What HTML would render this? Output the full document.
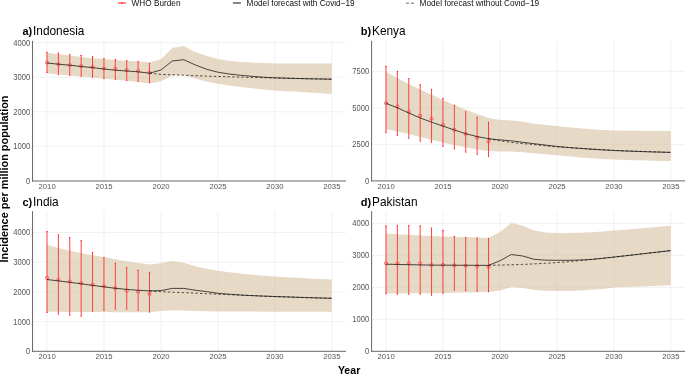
<!DOCTYPE html>
<html><head><meta charset="utf-8"><style>
html,body{margin:0;padding:0;background:#fff;}
body{width:685px;height:374px;overflow:hidden;}
svg{display:block;will-change:transform;font-family:"Liberation Sans",sans-serif;}
.tk{font-size:7.6px;fill:#555555;}
.ttl{font-size:11.85px;fill:#000;}
.lg{font-size:8.22px;fill:#111;}
.at{font-weight:bold;fill:#000;}
</style></head><body>
<svg width="685" height="374" viewBox="0 0 685 374">
<rect width="685" height="374" fill="#fff"/>
<line x1="32.55" y1="146.4" x2="346" y2="146.4" stroke="#efefef" stroke-width="0.9"/>
<line x1="32.55" y1="111.8" x2="346" y2="111.8" stroke="#efefef" stroke-width="0.9"/>
<line x1="32.55" y1="77.2" x2="346" y2="77.2" stroke="#efefef" stroke-width="0.9"/>
<line x1="32.55" y1="42.6" x2="346" y2="42.6" stroke="#efefef" stroke-width="0.9"/>
<line x1="47" y1="40.9" x2="47" y2="181" stroke="#efefef" stroke-width="0.9"/>
<line x1="103.95" y1="40.9" x2="103.95" y2="181" stroke="#efefef" stroke-width="0.9"/>
<line x1="160.9" y1="40.9" x2="160.9" y2="181" stroke="#efefef" stroke-width="0.9"/>
<line x1="217.85" y1="40.9" x2="217.85" y2="181" stroke="#efefef" stroke-width="0.9"/>
<line x1="274.8" y1="40.9" x2="274.8" y2="181" stroke="#efefef" stroke-width="0.9"/>
<line x1="331.75" y1="40.9" x2="331.75" y2="181" stroke="#efefef" stroke-width="0.9"/>
<polygon points="47,52.8 58.39,54.17 69.78,55.55 81.17,56.92 92.56,58.3 103.95,59.1 115.34,59.9 126.73,60.7 138.12,61.5 149.51,62.3 160.9,59.3 172.29,48 183.68,46 195.07,52 206.46,55.7 217.85,58.9 229.24,60.7 240.63,61.9 252.02,62.6 263.41,63 274.8,63.4 286.19,63.4 297.58,63.4 308.97,63.4 320.36,63.4 331.75,63.4 331.75,93.9 320.36,93.22 308.97,92.54 297.58,91.86 286.19,91.18 274.8,90.5 263.41,89.6 252.02,88.2 240.63,86.9 229.24,85.4 217.85,83.8 206.46,81.5 195.07,78.5 183.68,75 172.29,75.4 160.9,81.3 149.51,83.6 138.12,81.9 126.73,80.8 115.34,79.7 103.95,78.7 92.56,77.6 81.17,76.5 69.78,75.5 58.39,74.4 47,73.3" fill="#d5c09e" fill-opacity="0.6"/>
<line x1="47" y1="51.9" x2="47" y2="72.8" stroke="#ff4040" stroke-width="1"/>
<circle cx="47" cy="52.3" r="0.6" fill="#ff1a1a"/><circle cx="47" cy="72.4" r="0.55" fill="#ff2020"/>
<line x1="58.39" y1="52.8" x2="58.39" y2="74.7" stroke="#ff4040" stroke-width="1"/>
<circle cx="58.39" cy="53.2" r="0.6" fill="#ff1a1a"/><circle cx="58.39" cy="74.3" r="0.55" fill="#ff2020"/>
<line x1="69.78" y1="54.1" x2="69.78" y2="75.6" stroke="#ff4040" stroke-width="1"/>
<circle cx="69.78" cy="54.5" r="0.6" fill="#ff1a1a"/><circle cx="69.78" cy="75.2" r="0.55" fill="#ff2020"/>
<line x1="81.17" y1="55" x2="81.17" y2="76.6" stroke="#ff4040" stroke-width="1"/>
<circle cx="81.17" cy="55.4" r="0.6" fill="#ff1a1a"/><circle cx="81.17" cy="76.2" r="0.55" fill="#ff2020"/>
<line x1="92.56" y1="56.3" x2="92.56" y2="77.5" stroke="#ff4040" stroke-width="1"/>
<circle cx="92.56" cy="56.7" r="0.6" fill="#ff1a1a"/><circle cx="92.56" cy="77.1" r="0.55" fill="#ff2020"/>
<line x1="103.95" y1="58.1" x2="103.95" y2="78.6" stroke="#ff4040" stroke-width="1"/>
<circle cx="103.95" cy="58.5" r="0.6" fill="#ff1a1a"/><circle cx="103.95" cy="78.2" r="0.55" fill="#ff2020"/>
<line x1="115.34" y1="59" x2="115.34" y2="79.7" stroke="#ff4040" stroke-width="1"/>
<circle cx="115.34" cy="59.4" r="0.6" fill="#ff1a1a"/><circle cx="115.34" cy="79.3" r="0.55" fill="#ff2020"/>
<line x1="126.73" y1="60.1" x2="126.73" y2="80.8" stroke="#ff4040" stroke-width="1"/>
<circle cx="126.73" cy="60.5" r="0.6" fill="#ff1a1a"/><circle cx="126.73" cy="80.4" r="0.55" fill="#ff2020"/>
<line x1="138.12" y1="61.2" x2="138.12" y2="81.6" stroke="#ff4040" stroke-width="1"/>
<circle cx="138.12" cy="61.6" r="0.6" fill="#ff1a1a"/><circle cx="138.12" cy="81.2" r="0.55" fill="#ff2020"/>
<line x1="149.51" y1="63.1" x2="149.51" y2="82.8" stroke="#ff4040" stroke-width="1"/>
<circle cx="149.51" cy="63.5" r="0.6" fill="#ff1a1a"/><circle cx="149.51" cy="82.4" r="0.55" fill="#ff2020"/>
<circle cx="47" cy="62.5" r="1.6" fill="none" stroke="#ff4040" stroke-width="0.75"/>
<circle cx="58.39" cy="64.2" r="1.6" fill="none" stroke="#ff4040" stroke-width="0.75"/>
<circle cx="69.78" cy="65.1" r="1.6" fill="none" stroke="#ff4040" stroke-width="0.75"/>
<circle cx="81.17" cy="66.1" r="1.6" fill="none" stroke="#ff4040" stroke-width="0.75"/>
<circle cx="92.56" cy="67" r="1.6" fill="none" stroke="#ff4040" stroke-width="0.75"/>
<circle cx="103.95" cy="68.4" r="1.6" fill="none" stroke="#ff4040" stroke-width="0.75"/>
<circle cx="115.34" cy="68.9" r="1.6" fill="none" stroke="#ff4040" stroke-width="0.75"/>
<circle cx="126.73" cy="70.1" r="1.6" fill="none" stroke="#ff4040" stroke-width="0.75"/>
<circle cx="138.12" cy="71" r="1.6" fill="none" stroke="#ff4040" stroke-width="0.75"/>
<circle cx="149.51" cy="72.6" r="1.6" fill="none" stroke="#ff4040" stroke-width="0.75"/>
<polyline points="149.51,73.2 160.9,74.4 172.29,74.8 183.68,75.2 195.07,75.7 206.46,76.1 217.85,76.5 229.24,76.8 240.63,77.1 252.02,77.4 263.41,77.7 274.8,78 286.19,78.24 297.58,78.48 308.97,78.72 320.36,78.96 331.75,79.2" fill="none" stroke="#1a1a1a" stroke-width="0.75" stroke-dasharray="2.4 2.2"/>
<polyline points="47,63 58.39,64.2 69.78,65.2 81.17,66.5 92.56,67.6 103.95,69 115.34,70.2 126.73,71 138.12,71.8 149.51,73.2 160.9,70 172.29,61 183.68,59.7 195.07,64.8 206.46,69.2 217.85,72.2 229.24,74 240.63,75.3 252.02,76.3 263.41,77.2 274.8,77.8 286.19,78.2 297.58,78.5 308.97,78.8 320.36,79 331.75,79.2" fill="none" stroke="#111" stroke-width="0.75" stroke-linejoin="round"/>
<line x1="32.55" y1="40.9" x2="32.55" y2="181.5" stroke="#666666" stroke-width="1"/>
<line x1="32.05" y1="181" x2="346" y2="181" stroke="#666666" stroke-width="1"/>
<text transform="translate(30.15,183.9) scale(1,1.2)" text-anchor="end" class="tk">0</text>
<text transform="translate(30.15,149.3) scale(1,1.2)" text-anchor="end" class="tk">1000</text>
<text transform="translate(30.15,114.7) scale(1,1.2)" text-anchor="end" class="tk">2000</text>
<text transform="translate(30.15,80.1) scale(1,1.2)" text-anchor="end" class="tk">3000</text>
<text transform="translate(30.15,45.5) scale(1,1.2)" text-anchor="end" class="tk">4000</text>
<text transform="translate(47.1,189.1) scale(1,1.04)" text-anchor="middle" class="tk" style="font-size:7.72px">2010</text>
<text transform="translate(104.05,189.1) scale(1,1.04)" text-anchor="middle" class="tk" style="font-size:7.72px">2015</text>
<text transform="translate(161,189.1) scale(1,1.04)" text-anchor="middle" class="tk" style="font-size:7.72px">2020</text>
<text transform="translate(217.95,189.1) scale(1,1.04)" text-anchor="middle" class="tk" style="font-size:7.72px">2025</text>
<text transform="translate(274.9,189.1) scale(1,1.04)" text-anchor="middle" class="tk" style="font-size:7.72px">2030</text>
<text transform="translate(331.85,189.1) scale(1,1.04)" text-anchor="middle" class="tk" style="font-size:7.72px">2035</text>
<text x="32.2" y="35.1" class="ttl" text-anchor="end" style="font-size:11px;font-weight:bold">a)</text>
<text x="33" y="35.1" class="ttl">Indonesia</text>
<line x1="371.6" y1="144.4" x2="685" y2="144.4" stroke="#efefef" stroke-width="0.9"/>
<line x1="371.6" y1="107.8" x2="685" y2="107.8" stroke="#efefef" stroke-width="0.9"/>
<line x1="371.6" y1="71.3" x2="685" y2="71.3" stroke="#efefef" stroke-width="0.9"/>
<line x1="386" y1="40.9" x2="386" y2="180.9" stroke="#efefef" stroke-width="0.9"/>
<line x1="442.95" y1="40.9" x2="442.95" y2="180.9" stroke="#efefef" stroke-width="0.9"/>
<line x1="499.9" y1="40.9" x2="499.9" y2="180.9" stroke="#efefef" stroke-width="0.9"/>
<line x1="556.85" y1="40.9" x2="556.85" y2="180.9" stroke="#efefef" stroke-width="0.9"/>
<line x1="613.8" y1="40.9" x2="613.8" y2="180.9" stroke="#efefef" stroke-width="0.9"/>
<line x1="670.75" y1="40.9" x2="670.75" y2="180.9" stroke="#efefef" stroke-width="0.9"/>
<polygon points="386,71.7 397.39,78.1 408.78,83.9 420.17,89.5 431.56,94.8 442.95,100 454.34,104.9 465.73,109.7 477.12,114.1 488.51,117.9 499.9,120 511.29,120.4 522.68,121.5 534.07,123.7 545.46,125 556.85,126 568.24,127.2 579.63,128.3 591.02,129.2 602.41,130 613.8,130.5 625.19,130.7 636.58,130.8 647.97,130.9 659.36,131 670.75,131 670.75,161.1 659.36,160.9 647.97,160.6 636.58,160.3 625.19,160 613.8,159.6 602.41,159 591.02,158.3 579.63,157.4 568.24,156.3 556.85,155.2 545.46,154.3 534.07,153.3 522.68,152.3 511.29,151.6 499.9,151.5 488.51,151 477.12,149.4 465.73,147.5 454.34,145.1 442.95,142.4 431.56,139.8 420.17,137 408.78,134 397.39,131.4 386,129.1" fill="#d5c09e" fill-opacity="0.6"/>
<line x1="386" y1="65.9" x2="386" y2="132.8" stroke="#ff4040" stroke-width="1"/>
<circle cx="386" cy="66.3" r="0.6" fill="#ff1a1a"/><circle cx="386" cy="132.4" r="0.55" fill="#ff2020"/>
<line x1="397.39" y1="71" x2="397.39" y2="135.7" stroke="#ff4040" stroke-width="1"/>
<circle cx="397.39" cy="71.4" r="0.6" fill="#ff1a1a"/><circle cx="397.39" cy="135.3" r="0.55" fill="#ff2020"/>
<line x1="408.78" y1="78.2" x2="408.78" y2="138.6" stroke="#ff4040" stroke-width="1"/>
<circle cx="408.78" cy="78.6" r="0.6" fill="#ff1a1a"/><circle cx="408.78" cy="138.2" r="0.55" fill="#ff2020"/>
<line x1="420.17" y1="84.3" x2="420.17" y2="141.5" stroke="#ff4040" stroke-width="1"/>
<circle cx="420.17" cy="84.7" r="0.6" fill="#ff1a1a"/><circle cx="420.17" cy="141.1" r="0.55" fill="#ff2020"/>
<line x1="431.56" y1="89" x2="431.56" y2="142.9" stroke="#ff4040" stroke-width="1"/>
<circle cx="431.56" cy="89.4" r="0.6" fill="#ff1a1a"/><circle cx="431.56" cy="142.5" r="0.55" fill="#ff2020"/>
<line x1="442.95" y1="98" x2="442.95" y2="146.6" stroke="#ff4040" stroke-width="1"/>
<circle cx="442.95" cy="98.4" r="0.6" fill="#ff1a1a"/><circle cx="442.95" cy="146.2" r="0.55" fill="#ff2020"/>
<line x1="454.34" y1="105" x2="454.34" y2="149.4" stroke="#ff4040" stroke-width="1"/>
<circle cx="454.34" cy="105.4" r="0.6" fill="#ff1a1a"/><circle cx="454.34" cy="149" r="0.55" fill="#ff2020"/>
<line x1="465.73" y1="111.4" x2="465.73" y2="152.5" stroke="#ff4040" stroke-width="1"/>
<circle cx="465.73" cy="111.8" r="0.6" fill="#ff1a1a"/><circle cx="465.73" cy="152.1" r="0.55" fill="#ff2020"/>
<line x1="477.12" y1="116.9" x2="477.12" y2="154.6" stroke="#ff4040" stroke-width="1"/>
<circle cx="477.12" cy="117.3" r="0.6" fill="#ff1a1a"/><circle cx="477.12" cy="154.2" r="0.55" fill="#ff2020"/>
<line x1="488.51" y1="122" x2="488.51" y2="157" stroke="#ff4040" stroke-width="1"/>
<circle cx="488.51" cy="122.4" r="0.6" fill="#ff1a1a"/><circle cx="488.51" cy="156.6" r="0.55" fill="#ff2020"/>
<circle cx="386" cy="103.1" r="1.6" fill="none" stroke="#ff4040" stroke-width="0.75"/>
<circle cx="397.39" cy="106.5" r="1.6" fill="none" stroke="#ff4040" stroke-width="0.75"/>
<circle cx="408.78" cy="111.7" r="1.6" fill="none" stroke="#ff4040" stroke-width="0.75"/>
<circle cx="420.17" cy="115.8" r="1.6" fill="none" stroke="#ff4040" stroke-width="0.75"/>
<circle cx="431.56" cy="118.8" r="1.6" fill="none" stroke="#ff4040" stroke-width="0.75"/>
<circle cx="442.95" cy="124.9" r="1.6" fill="none" stroke="#ff4040" stroke-width="0.75"/>
<circle cx="454.34" cy="129.7" r="1.6" fill="none" stroke="#ff4040" stroke-width="0.75"/>
<circle cx="465.73" cy="134" r="1.6" fill="none" stroke="#ff4040" stroke-width="0.75"/>
<circle cx="477.12" cy="137.6" r="1.6" fill="none" stroke="#ff4040" stroke-width="0.75"/>
<circle cx="488.51" cy="141.5" r="1.6" fill="none" stroke="#ff4040" stroke-width="0.75"/>
<polyline points="488.51,138.7 499.9,140.8 511.29,142.4 522.68,143.6 534.07,144.6 545.46,145.8 556.85,146.9 568.24,147.5 579.63,148.22 591.02,148.95 602.41,149.68 613.8,150.4 625.19,150.8 636.58,151.2 647.97,151.6 659.36,152 670.75,152.4" fill="none" stroke="#1a1a1a" stroke-width="0.75" stroke-dasharray="2.4 2.2"/>
<polyline points="386,103.3 397.39,107.8 408.78,113 420.17,117.9 431.56,122.2 442.95,126.1 454.34,130 465.73,133.7 477.12,136.6 488.51,138.7 499.9,139.9 511.29,140.8 522.68,142.3 534.07,143.7 545.46,145.1 556.85,146.4 568.24,147.5 579.63,148.4 591.02,149.2 602.41,149.9 613.8,150.5 625.19,151 636.58,151.4 647.97,151.8 659.36,152.1 670.75,152.4" fill="none" stroke="#111" stroke-width="0.75" stroke-linejoin="round"/>
<line x1="371.6" y1="40.9" x2="371.6" y2="181.4" stroke="#666666" stroke-width="1"/>
<line x1="371.1" y1="180.9" x2="685" y2="180.9" stroke="#666666" stroke-width="1"/>
<text transform="translate(369.2,183.8) scale(1,1.2)" text-anchor="end" class="tk">0</text>
<text transform="translate(369.2,147.3) scale(1,1.2)" text-anchor="end" class="tk">2500</text>
<text transform="translate(369.2,110.7) scale(1,1.2)" text-anchor="end" class="tk">5000</text>
<text transform="translate(369.2,74.2) scale(1,1.2)" text-anchor="end" class="tk">7500</text>
<text transform="translate(386.1,189) scale(1,1.04)" text-anchor="middle" class="tk" style="font-size:7.72px">2010</text>
<text transform="translate(443.05,189) scale(1,1.04)" text-anchor="middle" class="tk" style="font-size:7.72px">2015</text>
<text transform="translate(500,189) scale(1,1.04)" text-anchor="middle" class="tk" style="font-size:7.72px">2020</text>
<text transform="translate(556.95,189) scale(1,1.04)" text-anchor="middle" class="tk" style="font-size:7.72px">2025</text>
<text transform="translate(613.9,189) scale(1,1.04)" text-anchor="middle" class="tk" style="font-size:7.72px">2030</text>
<text transform="translate(670.85,189) scale(1,1.04)" text-anchor="middle" class="tk" style="font-size:7.72px">2035</text>
<text x="371.25" y="35.1" class="ttl" text-anchor="end" style="font-size:11px;font-weight:bold">b)</text>
<text x="372.05" y="35.1" class="ttl">Kenya</text>
<line x1="32.55" y1="321.6" x2="346" y2="321.6" stroke="#efefef" stroke-width="0.9"/>
<line x1="32.55" y1="291.9" x2="346" y2="291.9" stroke="#efefef" stroke-width="0.9"/>
<line x1="32.55" y1="262.2" x2="346" y2="262.2" stroke="#efefef" stroke-width="0.9"/>
<line x1="32.55" y1="232.5" x2="346" y2="232.5" stroke="#efefef" stroke-width="0.9"/>
<line x1="47" y1="211.2" x2="47" y2="351.3" stroke="#efefef" stroke-width="0.9"/>
<line x1="103.95" y1="211.2" x2="103.95" y2="351.3" stroke="#efefef" stroke-width="0.9"/>
<line x1="160.9" y1="211.2" x2="160.9" y2="351.3" stroke="#efefef" stroke-width="0.9"/>
<line x1="217.85" y1="211.2" x2="217.85" y2="351.3" stroke="#efefef" stroke-width="0.9"/>
<line x1="274.8" y1="211.2" x2="274.8" y2="351.3" stroke="#efefef" stroke-width="0.9"/>
<line x1="331.75" y1="211.2" x2="331.75" y2="351.3" stroke="#efefef" stroke-width="0.9"/>
<polygon points="47,244.8 58.39,247.9 69.78,250.7 81.17,253.2 92.56,255.2 103.95,257 115.34,259.3 126.73,261.2 138.12,263 149.51,264.5 160.9,263.3 172.29,260.9 183.68,262.7 195.07,266.3 206.46,268.8 217.85,270.7 229.24,272.2 240.63,273.5 252.02,274.7 263.41,275.7 274.8,276.5 286.19,277.2 297.58,277.8 308.97,278.4 320.36,279 331.75,279.5 331.75,311.7 320.36,311.7 308.97,311.7 297.58,311.7 286.19,311.7 274.8,311.7 263.41,311.64 252.02,311.58 240.63,311.52 229.24,311.46 217.85,311.4 206.46,311.2 195.07,311 183.68,310.5 172.29,310.2 160.9,310.9 149.51,312.3 138.12,312.24 126.73,312.19 115.34,312.13 103.95,312.08 92.56,312.02 81.17,311.97 69.78,311.91 58.39,311.86 47,311.8" fill="#d5c09e" fill-opacity="0.6"/>
<line x1="47" y1="231.1" x2="47" y2="312.8" stroke="#ff4040" stroke-width="1"/>
<circle cx="47" cy="231.5" r="0.6" fill="#ff1a1a"/><circle cx="47" cy="312.4" r="0.55" fill="#ff2020"/>
<line x1="58.39" y1="234.2" x2="58.39" y2="314.5" stroke="#ff4040" stroke-width="1"/>
<circle cx="58.39" cy="234.6" r="0.6" fill="#ff1a1a"/><circle cx="58.39" cy="314.1" r="0.55" fill="#ff2020"/>
<line x1="69.78" y1="237.2" x2="69.78" y2="315.7" stroke="#ff4040" stroke-width="1"/>
<circle cx="69.78" cy="237.6" r="0.6" fill="#ff1a1a"/><circle cx="69.78" cy="315.3" r="0.55" fill="#ff2020"/>
<line x1="81.17" y1="240.2" x2="81.17" y2="316.5" stroke="#ff4040" stroke-width="1"/>
<circle cx="81.17" cy="240.6" r="0.6" fill="#ff1a1a"/><circle cx="81.17" cy="316.1" r="0.55" fill="#ff2020"/>
<line x1="92.56" y1="252" x2="92.56" y2="311.3" stroke="#ff4040" stroke-width="1"/>
<circle cx="92.56" cy="252.4" r="0.6" fill="#ff1a1a"/><circle cx="92.56" cy="310.9" r="0.55" fill="#ff2020"/>
<line x1="103.95" y1="257.1" x2="103.95" y2="310.6" stroke="#ff4040" stroke-width="1"/>
<circle cx="103.95" cy="257.5" r="0.6" fill="#ff1a1a"/><circle cx="103.95" cy="310.2" r="0.55" fill="#ff2020"/>
<line x1="115.34" y1="262.9" x2="115.34" y2="309.5" stroke="#ff4040" stroke-width="1"/>
<circle cx="115.34" cy="263.3" r="0.6" fill="#ff1a1a"/><circle cx="115.34" cy="309.1" r="0.55" fill="#ff2020"/>
<line x1="126.73" y1="267.2" x2="126.73" y2="309.5" stroke="#ff4040" stroke-width="1"/>
<circle cx="126.73" cy="267.6" r="0.6" fill="#ff1a1a"/><circle cx="126.73" cy="309.1" r="0.55" fill="#ff2020"/>
<line x1="138.12" y1="270" x2="138.12" y2="310.6" stroke="#ff4040" stroke-width="1"/>
<circle cx="138.12" cy="270.4" r="0.6" fill="#ff1a1a"/><circle cx="138.12" cy="310.2" r="0.55" fill="#ff2020"/>
<line x1="149.51" y1="272" x2="149.51" y2="312.4" stroke="#ff4040" stroke-width="1"/>
<circle cx="149.51" cy="272.4" r="0.6" fill="#ff1a1a"/><circle cx="149.51" cy="312" r="0.55" fill="#ff2020"/>
<circle cx="47" cy="277.8" r="1.6" fill="none" stroke="#ff4040" stroke-width="0.75"/>
<circle cx="58.39" cy="279.8" r="1.6" fill="none" stroke="#ff4040" stroke-width="0.75"/>
<circle cx="69.78" cy="281.5" r="1.6" fill="none" stroke="#ff4040" stroke-width="0.75"/>
<circle cx="81.17" cy="283.1" r="1.6" fill="none" stroke="#ff4040" stroke-width="0.75"/>
<circle cx="92.56" cy="284.8" r="1.6" fill="none" stroke="#ff4040" stroke-width="0.75"/>
<circle cx="103.95" cy="286.4" r="1.6" fill="none" stroke="#ff4040" stroke-width="0.75"/>
<circle cx="115.34" cy="288.1" r="1.6" fill="none" stroke="#ff4040" stroke-width="0.75"/>
<circle cx="126.73" cy="290.7" r="1.6" fill="none" stroke="#ff4040" stroke-width="0.75"/>
<circle cx="138.12" cy="291.8" r="1.6" fill="none" stroke="#ff4040" stroke-width="0.75"/>
<circle cx="149.51" cy="294" r="1.6" fill="none" stroke="#ff4040" stroke-width="0.75"/>
<polyline points="149.51,290.9 160.9,291.6 172.29,292.2 183.68,292.6 195.07,293.13 206.46,293.67 217.85,294.2 229.24,294.68 240.63,295.16 252.02,295.64 263.41,296.12 274.8,296.6 286.19,296.94 297.58,297.28 308.97,297.62 320.36,297.96 331.75,298.3" fill="none" stroke="#1a1a1a" stroke-width="0.75" stroke-dasharray="2.4 2.2"/>
<polyline points="47,279.5 58.39,280.9 69.78,282.3 81.17,283.8 92.56,285.4 103.95,286.8 115.34,288.3 126.73,289.4 138.12,290.3 149.51,290.9 160.9,290.6 172.29,288.4 183.68,288.4 195.07,290.2 206.46,291.6 217.85,293.3 229.24,294.2 240.63,295 252.02,295.6 263.41,296.1 274.8,296.5 286.19,296.9 297.58,297.3 308.97,297.7 320.36,298 331.75,298.3" fill="none" stroke="#111" stroke-width="0.75" stroke-linejoin="round"/>
<line x1="32.55" y1="211.2" x2="32.55" y2="351.8" stroke="#666666" stroke-width="1"/>
<line x1="32.05" y1="351.3" x2="346" y2="351.3" stroke="#666666" stroke-width="1"/>
<text transform="translate(30.15,354.2) scale(1,1.2)" text-anchor="end" class="tk">0</text>
<text transform="translate(30.15,324.5) scale(1,1.2)" text-anchor="end" class="tk">1000</text>
<text transform="translate(30.15,294.8) scale(1,1.2)" text-anchor="end" class="tk">2000</text>
<text transform="translate(30.15,265.1) scale(1,1.2)" text-anchor="end" class="tk">3000</text>
<text transform="translate(30.15,235.4) scale(1,1.2)" text-anchor="end" class="tk">4000</text>
<text transform="translate(47.1,359.4) scale(1,1.04)" text-anchor="middle" class="tk" style="font-size:7.72px">2010</text>
<text transform="translate(104.05,359.4) scale(1,1.04)" text-anchor="middle" class="tk" style="font-size:7.72px">2015</text>
<text transform="translate(161,359.4) scale(1,1.04)" text-anchor="middle" class="tk" style="font-size:7.72px">2020</text>
<text transform="translate(217.95,359.4) scale(1,1.04)" text-anchor="middle" class="tk" style="font-size:7.72px">2025</text>
<text transform="translate(274.9,359.4) scale(1,1.04)" text-anchor="middle" class="tk" style="font-size:7.72px">2030</text>
<text transform="translate(331.85,359.4) scale(1,1.04)" text-anchor="middle" class="tk" style="font-size:7.72px">2035</text>
<text x="32.2" y="205.5" class="ttl" text-anchor="end" style="font-size:11px;font-weight:bold">c)</text>
<text x="33" y="205.5" class="ttl">India</text>
<line x1="371.6" y1="319.3" x2="685" y2="319.3" stroke="#efefef" stroke-width="0.9"/>
<line x1="371.6" y1="287.35" x2="685" y2="287.35" stroke="#efefef" stroke-width="0.9"/>
<line x1="371.6" y1="255.4" x2="685" y2="255.4" stroke="#efefef" stroke-width="0.9"/>
<line x1="371.6" y1="223.4" x2="685" y2="223.4" stroke="#efefef" stroke-width="0.9"/>
<line x1="386" y1="211.2" x2="386" y2="351.3" stroke="#efefef" stroke-width="0.9"/>
<line x1="442.95" y1="211.2" x2="442.95" y2="351.3" stroke="#efefef" stroke-width="0.9"/>
<line x1="499.9" y1="211.2" x2="499.9" y2="351.3" stroke="#efefef" stroke-width="0.9"/>
<line x1="556.85" y1="211.2" x2="556.85" y2="351.3" stroke="#efefef" stroke-width="0.9"/>
<line x1="613.8" y1="211.2" x2="613.8" y2="351.3" stroke="#efefef" stroke-width="0.9"/>
<line x1="670.75" y1="211.2" x2="670.75" y2="351.3" stroke="#efefef" stroke-width="0.9"/>
<polygon points="386,233.6 397.39,234.2 408.78,234.8 420.17,235.4 431.56,236 442.95,236.38 454.34,236.76 465.73,237.14 477.12,237.52 488.51,237.9 499.9,232 511.29,223 522.68,225.7 534.07,230.5 545.46,232.5 556.85,233.1 568.24,233.1 579.63,232.8 591.02,232.2 602.41,231.5 613.8,230.6 625.19,229.64 636.58,228.68 647.97,227.72 659.36,226.76 670.75,225.8 670.75,285.2 659.36,285.68 647.97,286.16 636.58,286.64 625.19,287.12 613.8,287.6 602.41,289 591.02,289.8 579.63,290.4 568.24,291 556.85,291.1 545.46,290.8 534.07,290 522.68,287.9 511.29,287 499.9,290.4 488.51,292.1 477.12,292.35 465.73,292.6 454.34,292.85 442.95,293.1 431.56,293.18 420.17,293.26 408.78,293.34 397.39,293.42 386,293.5" fill="#d5c09e" fill-opacity="0.6"/>
<line x1="386" y1="225.4" x2="386" y2="294.1" stroke="#ff4040" stroke-width="1"/>
<circle cx="386" cy="225.8" r="0.6" fill="#ff1a1a"/><circle cx="386" cy="293.7" r="0.55" fill="#ff2020"/>
<line x1="397.39" y1="225" x2="397.39" y2="294.5" stroke="#ff4040" stroke-width="1"/>
<circle cx="397.39" cy="225.4" r="0.6" fill="#ff1a1a"/><circle cx="397.39" cy="294.1" r="0.55" fill="#ff2020"/>
<line x1="408.78" y1="225.2" x2="408.78" y2="294.5" stroke="#ff4040" stroke-width="1"/>
<circle cx="408.78" cy="225.6" r="0.6" fill="#ff1a1a"/><circle cx="408.78" cy="294.1" r="0.55" fill="#ff2020"/>
<line x1="420.17" y1="225.4" x2="420.17" y2="294.5" stroke="#ff4040" stroke-width="1"/>
<circle cx="420.17" cy="225.8" r="0.6" fill="#ff1a1a"/><circle cx="420.17" cy="294.1" r="0.55" fill="#ff2020"/>
<line x1="431.56" y1="227.8" x2="431.56" y2="295.5" stroke="#ff4040" stroke-width="1"/>
<circle cx="431.56" cy="228.2" r="0.6" fill="#ff1a1a"/><circle cx="431.56" cy="295.1" r="0.55" fill="#ff2020"/>
<line x1="442.95" y1="230" x2="442.95" y2="293.5" stroke="#ff4040" stroke-width="1"/>
<circle cx="442.95" cy="230.4" r="0.6" fill="#ff1a1a"/><circle cx="442.95" cy="293.1" r="0.55" fill="#ff2020"/>
<line x1="454.34" y1="236" x2="454.34" y2="290.4" stroke="#ff4040" stroke-width="1"/>
<circle cx="454.34" cy="236.4" r="0.6" fill="#ff1a1a"/><circle cx="454.34" cy="290" r="0.55" fill="#ff2020"/>
<line x1="465.73" y1="237.1" x2="465.73" y2="290.8" stroke="#ff4040" stroke-width="1"/>
<circle cx="465.73" cy="237.5" r="0.6" fill="#ff1a1a"/><circle cx="465.73" cy="290.4" r="0.55" fill="#ff2020"/>
<line x1="477.12" y1="237.8" x2="477.12" y2="291.5" stroke="#ff4040" stroke-width="1"/>
<circle cx="477.12" cy="238.2" r="0.6" fill="#ff1a1a"/><circle cx="477.12" cy="291.1" r="0.55" fill="#ff2020"/>
<line x1="488.51" y1="238.2" x2="488.51" y2="292.1" stroke="#ff4040" stroke-width="1"/>
<circle cx="488.51" cy="238.6" r="0.6" fill="#ff1a1a"/><circle cx="488.51" cy="291.7" r="0.55" fill="#ff2020"/>
<circle cx="386" cy="263.3" r="1.6" fill="none" stroke="#ff4040" stroke-width="0.75"/>
<circle cx="397.39" cy="263.4" r="1.6" fill="none" stroke="#ff4040" stroke-width="0.75"/>
<circle cx="408.78" cy="263.3" r="1.6" fill="none" stroke="#ff4040" stroke-width="0.75"/>
<circle cx="420.17" cy="263.4" r="1.6" fill="none" stroke="#ff4040" stroke-width="0.75"/>
<circle cx="431.56" cy="265" r="1.6" fill="none" stroke="#ff4040" stroke-width="0.75"/>
<circle cx="442.95" cy="264.9" r="1.6" fill="none" stroke="#ff4040" stroke-width="0.75"/>
<circle cx="454.34" cy="265.3" r="1.6" fill="none" stroke="#ff4040" stroke-width="0.75"/>
<circle cx="465.73" cy="265.6" r="1.6" fill="none" stroke="#ff4040" stroke-width="0.75"/>
<circle cx="477.12" cy="266.2" r="1.6" fill="none" stroke="#ff4040" stroke-width="0.75"/>
<circle cx="488.51" cy="267" r="1.6" fill="none" stroke="#ff4040" stroke-width="0.75"/>
<polyline points="488.51,265.3 499.9,265.1 511.29,264.8 522.68,264.4 534.07,263.9 545.46,263.3 556.85,262.6 568.24,261.7 579.63,260.6 591.02,259.4 602.41,258.3 613.8,257.1 625.19,255.8 636.58,254.5 647.97,253.2 659.36,251.9 670.75,250.6" fill="none" stroke="#1a1a1a" stroke-width="0.75" stroke-dasharray="2.4 2.2"/>
<polyline points="386,264.2 397.39,264.45 408.78,264.7 420.17,264.9 431.56,265.1 442.95,265.16 454.34,265.22 465.73,265.28 477.12,265.34 488.51,265.4 499.9,260.8 511.29,254.5 522.68,256 534.07,259.3 545.46,260.2 556.85,260.3 568.24,260.3 579.63,260 591.02,259.5 602.41,258.3 613.8,257.1 625.19,255.8 636.58,254.5 647.97,253.2 659.36,251.9 670.75,250.6" fill="none" stroke="#111" stroke-width="0.75" stroke-linejoin="round"/>
<line x1="371.6" y1="211.2" x2="371.6" y2="351.8" stroke="#666666" stroke-width="1"/>
<line x1="371.1" y1="351.3" x2="685" y2="351.3" stroke="#666666" stroke-width="1"/>
<text transform="translate(369.2,354.2) scale(1,1.2)" text-anchor="end" class="tk">0</text>
<text transform="translate(369.2,322.2) scale(1,1.2)" text-anchor="end" class="tk">1000</text>
<text transform="translate(369.2,290.25) scale(1,1.2)" text-anchor="end" class="tk">2000</text>
<text transform="translate(369.2,258.3) scale(1,1.2)" text-anchor="end" class="tk">3000</text>
<text transform="translate(369.2,226.3) scale(1,1.2)" text-anchor="end" class="tk">4000</text>
<text transform="translate(386.1,359.4) scale(1,1.04)" text-anchor="middle" class="tk" style="font-size:7.72px">2010</text>
<text transform="translate(443.05,359.4) scale(1,1.04)" text-anchor="middle" class="tk" style="font-size:7.72px">2015</text>
<text transform="translate(500,359.4) scale(1,1.04)" text-anchor="middle" class="tk" style="font-size:7.72px">2020</text>
<text transform="translate(556.95,359.4) scale(1,1.04)" text-anchor="middle" class="tk" style="font-size:7.72px">2025</text>
<text transform="translate(613.9,359.4) scale(1,1.04)" text-anchor="middle" class="tk" style="font-size:7.72px">2030</text>
<text transform="translate(670.85,359.4) scale(1,1.04)" text-anchor="middle" class="tk" style="font-size:7.72px">2035</text>
<text x="371.25" y="205.6" class="ttl" text-anchor="end" style="font-size:11px;font-weight:bold">d)</text>
<text x="372.05" y="205.6" class="ttl">Pakistan</text>
<line x1="117.9" y1="3" x2="126.1" y2="3" stroke="#ff1a1a" stroke-width="1"/>
<circle cx="122" cy="3" r="0.8" fill="#ff1010"/>
<text x="131.6" y="5.9" class="lg">WHO Burden</text>
<line x1="232.9" y1="3" x2="240.9" y2="3" stroke="#222" stroke-width="1.1"/>
<text x="246.6" y="5.9" class="lg">Model forecast with Covid−19</text>
<line x1="405.9" y1="3.2" x2="414.1" y2="3.2" stroke="#707070" stroke-width="1.0" stroke-dasharray="3.2 1.7"/>
<text x="419.6" y="5.9" class="lg">Model forecast without Covid−19</text>
<text x="349.1" y="373.6" text-anchor="middle" class="at" font-size="10.6">Year</text>
<text transform="translate(8.1,179) rotate(-90)" text-anchor="middle" class="at" font-size="10.9">Incidence per million population</text>
</svg>
</body></html>
